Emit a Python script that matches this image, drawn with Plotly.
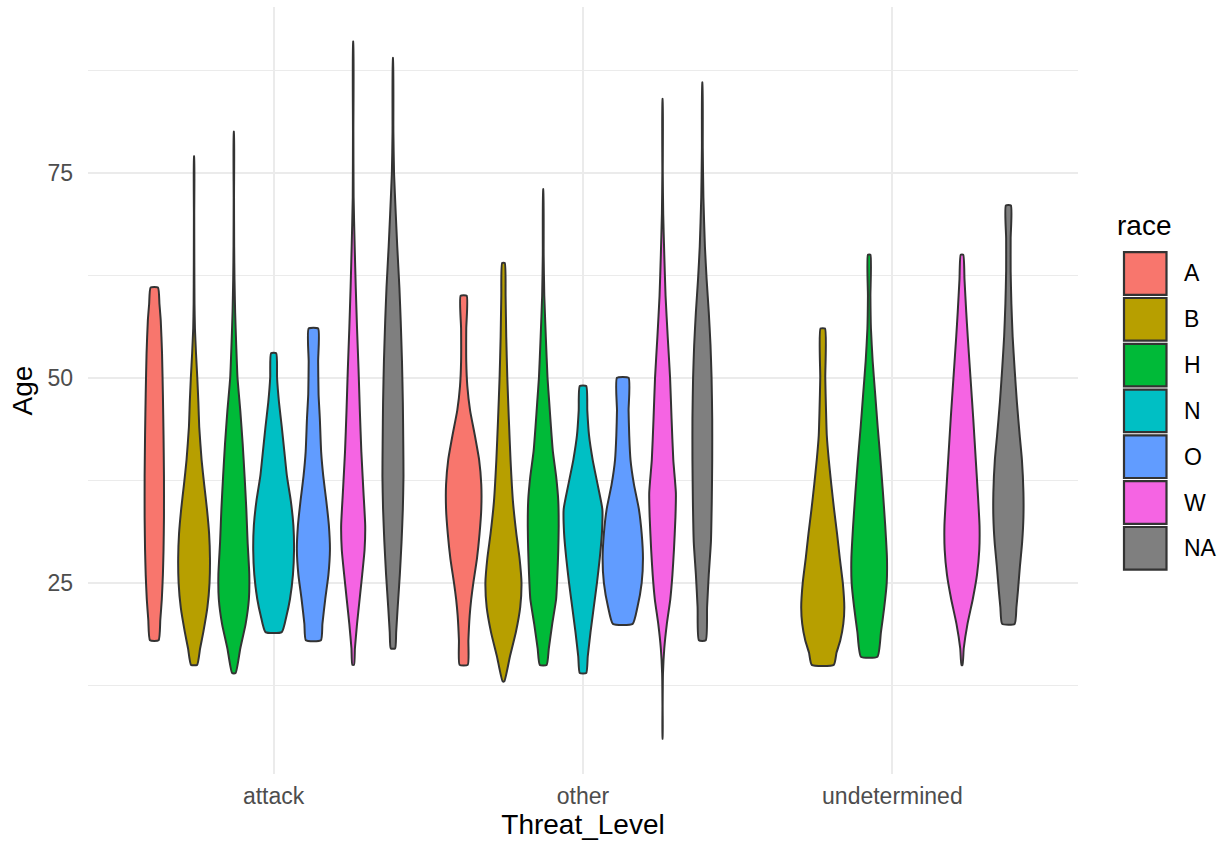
import plotly.graph_objects as go

# ---------------- data ----------------
levels = ["attack", "other", "undetermined"]
races = ["A", "B", "H", "N", "O", "W", "NA"]
race_colors = ["#F8766D", "#B79F00", "#00BA38", "#00BFC4", "#619CFF", "#F564E3", "#7F7F7F"]

# dodge slots occupied within each threat level
slots_attack = ["A", "B", "H", "N", "O", "W", "NA"]
slots_other = ["A", "B", "H", "N", "O", "W", "NA"]
slots_undetermined = ["A", "B", "H", "N", "W", "NA"]

# violin outlines: ages (top -> bottom) and width as share of the dodge slot
age_attack_A = [61, 59, 57, 53, 48, 43, 38, 33, 29, 26, 23, 20.5, 18]
wid_attack_A = [0.17, 0.24, 0.3, 0.36, 0.4, 0.43, 0.45, 0.45, 0.43, 0.4, 0.35, 0.28, 0.2]
age_attack_B = [77, 70, 64, 59, 56, 53, 50, 47, 44, 40, 37, 34, 31, 28, 25, 22, 19, 17, 15]
wid_attack_B = [0.005, 0.008, 0.012, 0.02, 0.04, 0.09, 0.15, 0.2, 0.24, 0.35, 0.47, 0.6, 0.7, 0.74, 0.72, 0.62, 0.43, 0.28, 0.14]
age_attack_H = [80, 72, 66, 62, 58, 54, 50, 46, 42, 38, 34, 30, 26, 23, 20, 17, 14]
wid_attack_H = [0.005, 0.008, 0.015, 0.03, 0.06, 0.11, 0.17, 0.3, 0.41, 0.5, 0.58, 0.64, 0.72, 0.7, 0.55, 0.3, 0.08]
age_attack_N = [53, 50, 47, 44, 41, 38, 35, 32, 29, 26, 23, 21, 19]
wid_attack_N = [0.12, 0.16, 0.25, 0.38, 0.5, 0.62, 0.8, 0.92, 0.95, 0.9, 0.76, 0.6, 0.38]
age_attack_O = [56, 52, 48, 45, 41, 38, 35, 32, 29, 26, 23, 20, 18]
wid_attack_O = [0.22, 0.22, 0.24, 0.3, 0.36, 0.46, 0.6, 0.72, 0.77, 0.7, 0.55, 0.42, 0.35]
age_attack_W = [91, 80, 72, 66, 61, 56, 51, 46, 41, 36, 32, 29, 26, 23, 20, 17, 15]
wid_attack_W = [0.005, 0.01, 0.02, 0.07, 0.12, 0.18, 0.25, 0.31, 0.38, 0.48, 0.56, 0.53, 0.42, 0.3, 0.18, 0.08, 0.04]
age_attack_NA = [89, 80, 75, 70, 66, 61, 57, 52, 47, 42, 38, 34, 30, 26, 22, 19, 17]
wid_attack_NA = [0.005, 0.02, 0.05, 0.13, 0.2, 0.3, 0.36, 0.42, 0.46, 0.48, 0.49, 0.46, 0.4, 0.32, 0.22, 0.15, 0.1]

age_other_A = [60, 56, 52, 49, 46, 43, 40, 37, 34, 31, 28, 25, 23, 21, 18, 15]
wid_other_A = [0.14, 0.12, 0.12, 0.17, 0.3, 0.52, 0.72, 0.82, 0.82, 0.74, 0.62, 0.45, 0.35, 0.28, 0.22, 0.19]
age_other_B = [64, 60, 55, 50, 45, 40, 35, 31, 28, 25, 22, 19, 16, 13]
wid_other_B = [0.06, 0.1, 0.13, 0.18, 0.25, 0.33, 0.44, 0.6, 0.75, 0.84, 0.78, 0.58, 0.3, 0.04]
age_other_H = [73, 65, 60, 55, 50, 47, 44, 41, 38, 35, 32, 29, 26, 23, 20, 17, 15]
wid_other_H = [0.005, 0.02, 0.05, 0.12, 0.2, 0.28, 0.36, 0.45, 0.6, 0.7, 0.72, 0.7, 0.66, 0.6, 0.42, 0.26, 0.16]
age_other_N = [49, 46, 43, 40, 37, 34, 31, 28, 25, 22, 19, 16, 14]
wid_other_N = [0.15, 0.2, 0.28, 0.45, 0.68, 0.9, 0.88, 0.78, 0.65, 0.5, 0.35, 0.22, 0.15]
age_other_O = [50, 46, 43, 40, 37, 34, 31, 28, 25, 22, 20]
wid_other_O = [0.27, 0.27, 0.3, 0.36, 0.52, 0.75, 0.88, 0.94, 0.88, 0.68, 0.46]
age_other_W = [84, 75, 70, 65, 60, 55, 50, 45, 40, 36, 33, 29, 26, 23, 20, 17, 14, 10, 6]
wid_other_W = [0.005, 0.01, 0.03, 0.08, 0.14, 0.24, 0.35, 0.42, 0.5, 0.62, 0.6, 0.53, 0.46, 0.36, 0.2, 0.08, 0.02, 0.005, 0.003]
age_other_NA = [86, 78, 72, 66, 62, 58, 54, 50, 45, 40, 35, 30, 26, 22, 18]
wid_other_NA = [0.005, 0.02, 0.05, 0.12, 0.2, 0.3, 0.38, 0.43, 0.46, 0.46, 0.44, 0.4, 0.3, 0.22, 0.16]

age_und_B = [56, 50, 46, 43, 40, 37, 34, 31, 28, 25, 22, 20, 18, 16.5, 15]
wid_und_B = [0.09, 0.1, 0.13, 0.16, 0.24, 0.34, 0.45, 0.57, 0.68, 0.8, 0.86, 0.82, 0.7, 0.55, 0.44]
age_und_H = [65, 60, 56, 52, 48, 44, 40, 36, 32, 28, 25, 22, 19, 16]
wid_und_H = [0.05, 0.05, 0.07, 0.14, 0.24, 0.34, 0.45, 0.55, 0.64, 0.71, 0.7, 0.6, 0.47, 0.33]
age_und_W = [65, 62, 58, 55, 50, 45, 40, 36, 32, 29, 26, 23, 20, 17, 15]
wid_und_W = [0.05, 0.1, 0.17, 0.23, 0.34, 0.45, 0.55, 0.63, 0.7, 0.69, 0.6, 0.43, 0.22, 0.07, 0.02]
age_und_NA = [71, 67, 63, 59, 55, 51, 47, 43, 40, 36, 33, 30, 27, 24, 22, 20]
wid_und_NA = [0.1, 0.09, 0.09, 0.12, 0.17, 0.25, 0.34, 0.45, 0.54, 0.6, 0.6, 0.55, 0.46, 0.38, 0.32, 0.25]

y_major = [25, 50, 75]
y_minor = [12.5, 37.5, 62.5, 87.5]

# ---------------- assemble ----------------
slots = {"attack": slots_attack, "other": slots_other, "undetermined": slots_undetermined}
violins = [
    ("attack", "A", age_attack_A, wid_attack_A), ("attack", "B", age_attack_B, wid_attack_B),
    ("attack", "H", age_attack_H, wid_attack_H), ("attack", "N", age_attack_N, wid_attack_N),
    ("attack", "O", age_attack_O, wid_attack_O), ("attack", "W", age_attack_W, wid_attack_W),
    ("attack", "NA", age_attack_NA, wid_attack_NA),
    ("other", "A", age_other_A, wid_other_A), ("other", "B", age_other_B, wid_other_B),
    ("other", "H", age_other_H, wid_other_H), ("other", "N", age_other_N, wid_other_N),
    ("other", "O", age_other_O, wid_other_O), ("other", "W", age_other_W, wid_other_W),
    ("other", "NA", age_other_NA, wid_other_NA),
    ("undetermined", "B", age_und_B, wid_und_B), ("undetermined", "H", age_und_H, wid_und_H),
    ("undetermined", "W", age_und_W, wid_und_W), ("undetermined", "NA", age_und_NA, wid_und_NA),
]
color_of = dict(zip(races, race_colors))
DODGE = 0.9
WIDTH_GAIN = 1.08
OUTLINE = "#333333"

fig = go.Figure()
for level, race, ages, wids in violins:
    s = slots[level]
    n = len(s)
    slot_w = DODGE / n
    center = (levels.index(level) + 1) - DODGE / 2 + slot_w * (s.index(race) + 0.5)
    half = [w * WIDTH_GAIN * slot_w / 2 for w in wids]
    xs = [center + h for h in half] + [center - h for h in reversed(half)] + [center + half[0]]
    ys = list(ages) + list(reversed(ages)) + [ages[0]]
    fig.add_trace(go.Scatter(
        x=xs, y=ys, mode="lines", fill="toself", fillcolor=color_of[race],
        line=dict(color=OUTLINE, width=2.0, shape="spline", smoothing=0.5),
        name=race, showlegend=False, hoverinfo="skip"))

# ---------------- layout ----------------
W, H = 1222, 841
L, R, T, B = 88, 144, 7, 67
pw, ph = W - L - R, H - T - B

def px_x(px):
    return (px - L) / pw

def px_y(py):
    return (H - B - py) / ph

FONT = "Liberation Sans, Arial, Helvetica, sans-serif"
GRID = "#EBEBEB"

fig.update_layout(
    width=W, height=H,
    margin=dict(l=L, r=R, t=T, b=B, autoexpand=False),
    paper_bgcolor="white", plot_bgcolor="white",
    font=dict(family=FONT, color="#4D4D4D"),
    hovermode=False,
    xaxis=dict(
        range=[0.4, 3.6], tickmode="array", tickvals=[1, 2, 3], ticktext=levels,
        showgrid=True, gridcolor=GRID, gridwidth=2.2, zeroline=False, showline=False,
        ticks="", tickfont=dict(size=23, color="#4D4D4D"), ticklabelstandoff=6,
        title=dict(text="Threat_Level", font=dict(size=28, color="black"), standoff=2),
        automargin=False,
    ),
    yaxis=dict(
        range=[1.7, 95.2], tickmode="array", tickvals=y_major,
        showgrid=True, gridcolor=GRID, gridwidth=2.2, zeroline=False, showline=False,
        ticks="", tickfont=dict(size=23, color="#4D4D4D"), ticklabelstandoff=14,
        minor=dict(tickmode="array", tickvals=y_minor, showgrid=True, gridcolor=GRID, gridwidth=1.1, ticks=""),
        title=dict(text="Age", font=dict(size=28, color="black"), standoff=6),
        automargin=False,
    ),
    showlegend=False,
)

# manual ggplot-style legend
shapes = []
annotations = [dict(text="race", x=px_x(1115), y=px_y(226), xref="paper", yref="paper",
                    xanchor="left", yanchor="middle", showarrow=False,
                    font=dict(size=28, color="black", family=FONT))]
for i, race in enumerate(races):
    cy = 273.5 + i * 45.8
    shapes.append(dict(type="rect", xref="paper", yref="paper",
                       x0=px_x(1124), x1=px_x(1166.5), y0=px_y(cy + 21.3), y1=px_y(cy - 21.3),
                       fillcolor=color_of[race], line=dict(color=OUTLINE, width=2.2)))
    annotations.append(dict(text=race, x=px_x(1182), y=px_y(cy), xref="paper", yref="paper",
                            xanchor="left", yanchor="middle", showarrow=False,
                            font=dict(size=23, color="black", family=FONT)))
fig.update_layout(shapes=shapes, annotations=annotations)

fig.write_html("out.html", config={"displayModeBar": False},
               post_script="document.body.style.margin='0';document.body.style.overflow='hidden';")
